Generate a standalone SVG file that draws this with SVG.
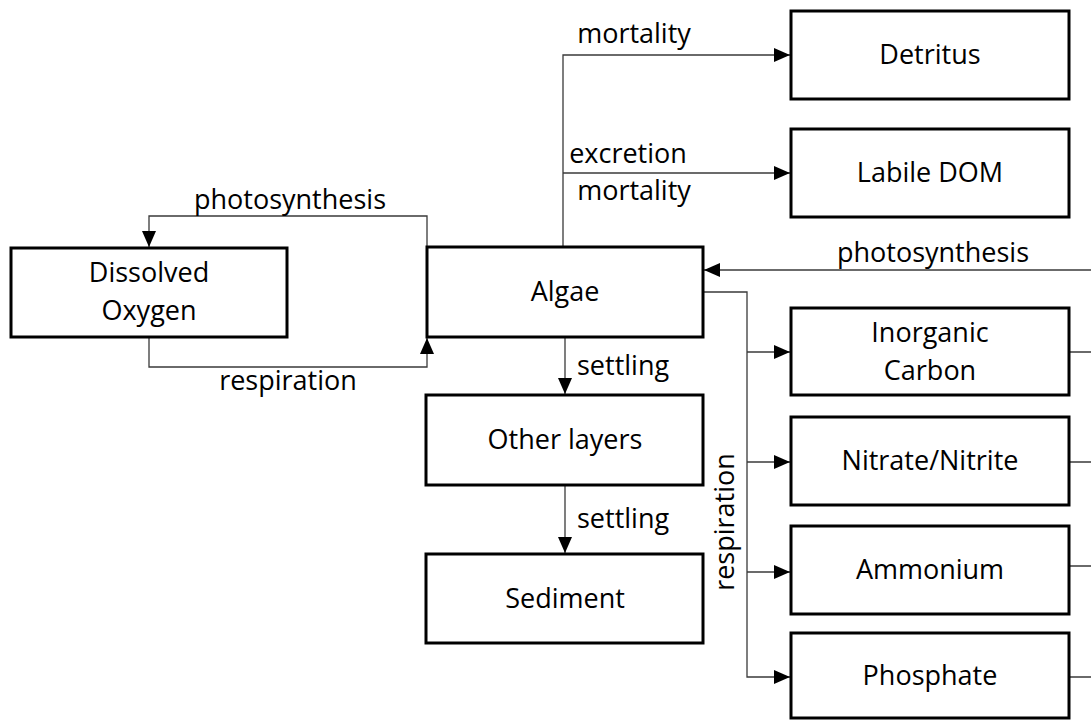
<svg xmlns="http://www.w3.org/2000/svg" width="1091" height="722" viewBox="0 0 1091 722">
<style>
.box{fill:#fff;stroke:#000;stroke-width:3}
.t{font-family:"Open Sans","Liberation Sans",sans-serif;font-size:27px;fill:#000;text-anchor:middle}
.l{font-family:"Open Sans","Liberation Sans",sans-serif;font-size:27px;fill:#000}
.c{fill:none;stroke:#3a3a3a;stroke-width:1.3}
</style>
<defs>
<marker id="ah" markerUnits="userSpaceOnUse" markerWidth="16" markerHeight="14" refX="16" refY="7" orient="auto"><path d="M0,0 L16,7 L0,14 z" fill="#000"/></marker>
</defs>
<g id="connectors">
<path class="c" d="M427,247 V216 H149 V247" marker-end="url(#ah)"/>
<text class="l" x="290" y="209" text-anchor="middle">photosynthesis</text>
<path class="c" d="M149,337 V367 H427 V338" marker-end="url(#ah)"/>
<text class="l" x="288" y="390" text-anchor="middle">respiration</text>
<path class="c" d="M563,247 V55 H790" marker-end="url(#ah)"/>
<text class="l" x="634" y="43" text-anchor="middle">mortality</text>
<path class="c" d="M563,173 H790" marker-end="url(#ah)"/>
<text class="l" x="628" y="163" text-anchor="middle">excretion</text>
<text class="l" x="634" y="200" text-anchor="middle">mortality</text>
<path class="c" d="M1091,270 H704" marker-end="url(#ah)"/>
<text class="l" x="933" y="262" text-anchor="middle">photosynthesis</text>
<path class="c" d="M703,292 H747 V677 H790" marker-end="url(#ah)"/>
<path class="c" d="M747,352 H790" marker-end="url(#ah)"/>
<path class="c" d="M747,462 H790" marker-end="url(#ah)"/>
<path class="c" d="M747,572 H790" marker-end="url(#ah)"/>
<text class="l" transform="translate(734,522) rotate(-90)" text-anchor="middle">respiration</text>
<path class="c" d="M565,337 V394" marker-end="url(#ah)"/>
<text class="l" x="577" y="375">settling</text>
<path class="c" d="M565,485 V553" marker-end="url(#ah)"/>
<text class="l" x="577" y="528">settling</text>
<path class="c" d="M1069,352 H1091 M1069,462 H1091 M1069,566 H1091 M1069,677 H1091"/>
</g>
<g id="dissolved-oxygen">
<rect class="box" x="11" y="248" width="276" height="89"/>
<text class="t" x="149" y="282">Dissolved</text>
<text class="t" x="149" y="320">Oxygen</text>
</g>
<g id="algae">
<rect class="box" x="427" y="247" width="276" height="90"/>
<text class="t" x="565" y="301">Algae</text>
</g>
<g id="detritus">
<rect class="box" x="791" y="11" width="278" height="88"/>
<text class="t" x="930" y="64">Detritus</text>
</g>
<g id="labile-dom">
<rect class="box" x="791" y="129" width="278" height="88"/>
<text class="t" x="930" y="182">Labile DOM</text>
</g>
<g id="other-layers">
<rect class="box" x="426" y="395" width="277" height="90"/>
<text class="t" x="565" y="449">Other layers</text>
</g>
<g id="sediment">
<rect class="box" x="426" y="554" width="277" height="89"/>
<text class="t" x="565" y="608">Sediment</text>
</g>
<g id="inorganic-carbon">
<rect class="box" x="791" y="308" width="278" height="87"/>
<text class="t" x="930" y="342">Inorganic</text>
<text class="t" x="930" y="380">Carbon</text>
</g>
<g id="nitrate-nitrite">
<rect class="box" x="791" y="417" width="278" height="88"/>
<text class="t" x="930" y="470">Nitrate/Nitrite</text>
</g>
<g id="ammonium">
<rect class="box" x="791" y="526" width="278" height="88"/>
<text class="t" x="930" y="579">Ammonium</text>
</g>
<g id="phosphate">
<rect class="box" x="791" y="633" width="278" height="85"/>
<text class="t" x="930" y="685">Phosphate</text>
</g>
</svg>
